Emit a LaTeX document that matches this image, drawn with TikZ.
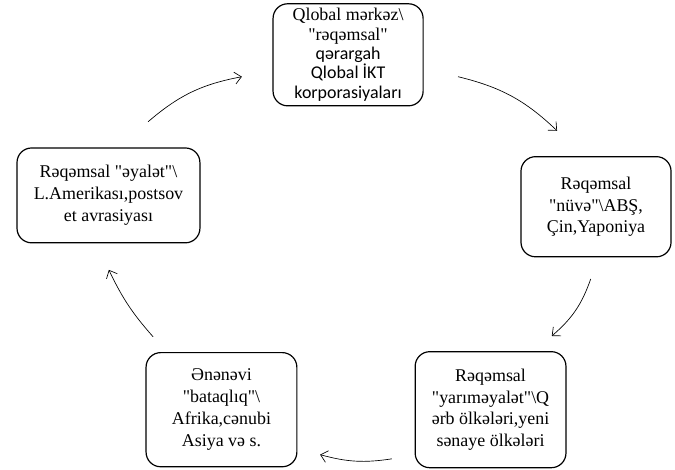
\documentclass[tikz,border=0pt]{standalone}
\usepackage{fontspec}
\setmainfont{Liberation Serif}
\newfontfamily\calibri{Carlito}
\usetikzlibrary{arrows.meta}

\begin{document}
\begin{tikzpicture}[>={Straight Barb[length=5pt,width=9pt]},
  stagebox/.style={draw, line width=0.9pt, rounded corners=11pt, align=center,
    inner sep=2pt, font=\fontsize{13.5}{16.5}\selectfont},
  cyclearrow/.style={->, line width=0.5pt}]
  \useasboundingbox (0,0) rectangle (17.86,12.43);

  % stages of the cycle
  \node[stagebox, font=\fontsize{13.5}{14.6}\selectfont, minimum width=3.97cm, minimum height=2.70cm] (qlobal) at (9.21,10.98)
    {Qlobal mərkəz\textbackslash\\ \textquotedbl rəqəmsal\textquotedbl\\ \calibri qərargah\\ \calibri Qlobal İKT\\ \calibri korporasiyaları};
  \node[stagebox, minimum width=3.97cm, minimum height=2.65cm] (nuve) at (15.77,6.96)
    {Rəqəmsal\\ \textquotedbl nüvə\textquotedbl\textbackslash ABŞ,\\ Çin,Yaponiya};
  \node[stagebox, minimum width=3.99cm, minimum height=3.07cm] (yarim) at (12.98,1.59)
    {Rəqəmsal\\ \textquotedbl yarıməyalət\textquotedbl\textbackslash Q\\ ərb ölkələri,yeni\\ sənaye ölkələri};
  \node[stagebox, minimum width=3.99cm, minimum height=3.02cm] (bataqliq) at (5.86,1.59)
    {Ənənəvi\\ \textquotedbl bataqlıq\textquotedbl\textbackslash\\ Afrika,cənubi\\ Asiya və s.};
  \node[stagebox, minimum width=4.84cm, minimum height=2.51cm] (eyalet) at (2.87,7.26)
    {Rəqəmsal \textquotedbl əyalət\textquotedbl\textbackslash\\ L.Amerikası,postsov\\ et avrasiyası};

  % arrow ends
  \coordinate (e1) at (3.92,9.21);   \coordinate (q1) at (6.40,10.40);
  \coordinate (q2) at (12.12,10.40); \coordinate (n2) at (14.74,8.97);
  \coordinate (n3) at (15.63,5.05);  \coordinate (y3) at (14.60,3.54);
  \coordinate (y4) at (10.37,0.29);  \coordinate (b4) at (8.47,0.40);
  \coordinate (b5) at (4.05,3.52);   \coordinate (e5) at (2.88,5.29);

  \foreach \from/\to/\bend in {e1/q1/15, q2/n2/15, n3/y3/15, y4/b4/12, b5/e5/8}
  {
    \draw[cyclearrow] (\from) to[bend left=\bend] (\to);
  }
\end{tikzpicture}
\end{document}
